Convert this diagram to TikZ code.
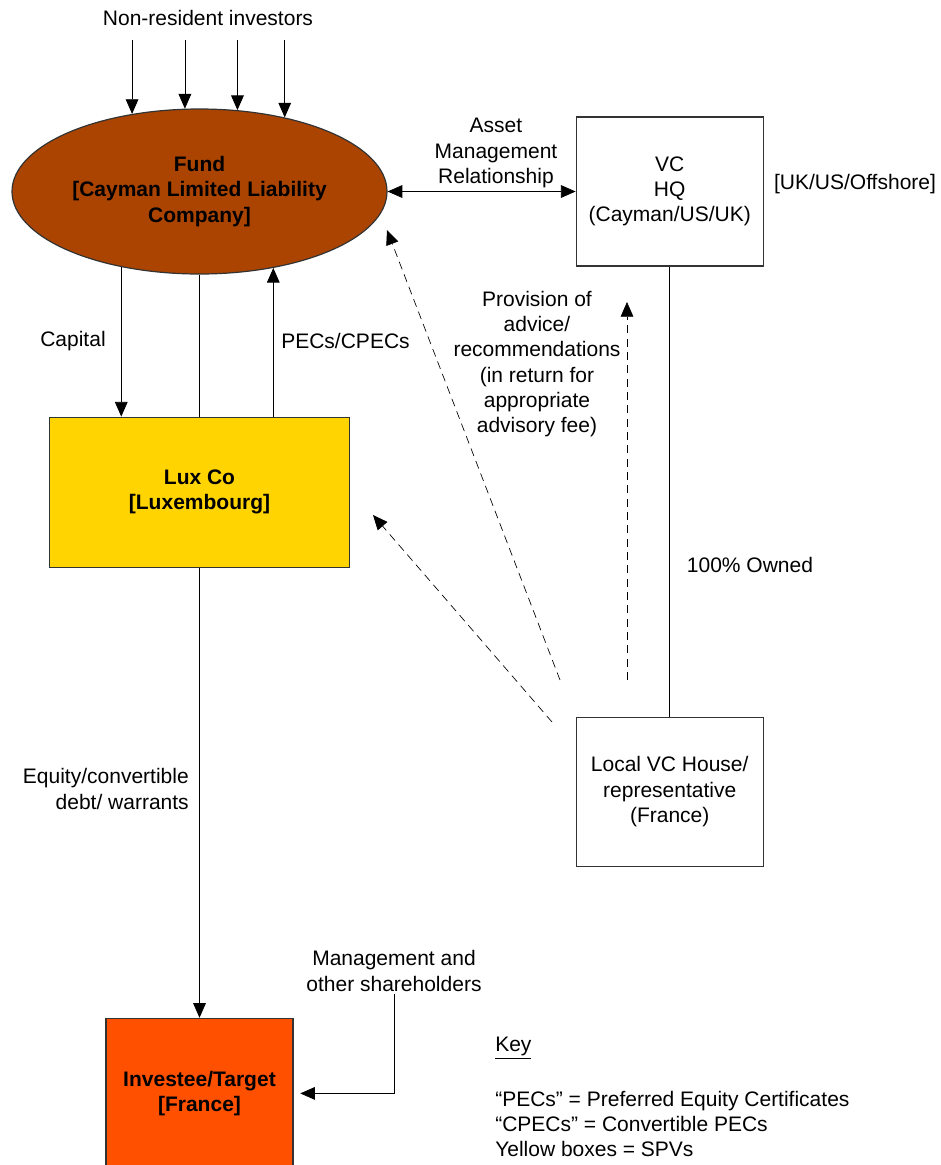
\documentclass[tikz,border=0pt]{standalone}
\usepackage{fontspec}
\setmainfont{Liberation Sans}
\usetikzlibrary{arrows.meta,shapes.geometric,positioning}

\definecolor{fundbrown}{RGB}{170,68,0}
\definecolor{luxyellow}{RGB}{255,212,0}
\definecolor{targetred}{RGB}{255,80,0}
\newcommand\diagfont{\fontsize{15.75}{19}\selectfont}

\begin{document}
\begin{tikzpicture}[
        x=0.75pt, y=-0.75pt,
        font=\diagfont,
        >={Triangle[length=11pt,width=9.5pt]},
        every node/.style={align=center, inner sep=1.5pt},
        entity/.style={draw=black!80, line width=0.9pt, minimum width=140.25pt, minimum height=111.75pt},
        fundnode/.style={ellipse, draw=black!80, line width=0.9pt, fill=fundbrown, minimum width=281.25pt, minimum height=123.75pt, inner sep=0pt, font=\diagfont\bfseries},
        spv/.style={entity, fill=luxyellow, minimum width=225pt, minimum height=112.5pt, font=\diagfont\bfseries},
        target/.style={entity, fill=targetred, minimum height=112.5pt, font=\diagfont\bfseries},
        flow/.style={->, line width=0.6pt},
        link/.style={line width=0.6pt},
        advice/.style={->, line width=0.5pt, dash pattern=on 6pt off 4pt}
    ]
    \useasboundingbox (0,0) rectangle (941,1165);

    % Entities
      \node[fundnode] (fund) at (199.5,191.5) {Fund\\{[Cayman Limited Liability}\\Company]};
      \node[entity, right=141pt of fund] (hq) {VC\\HQ\\(Cayman/US/UK)};
      \node[spv, below=106.5pt of fund] (lux) {Lux Co\\{[Luxembourg]}};
      \node[target, below=337.5pt of lux] (investee) {Investee/Target\\{[France]}};
      \node[entity, below=337.5pt of hq] (local) {Local VC House/\\representative\\(France)};

    % Texts
      \node (investors) at (208,18) {Non-resident investors};
      \node (amr) at (496,153) {Asset\\Management\\Relationship};
      \node (offshore) at (855,184) {[UK/US/Offshore]};
      \node (capital) at (73,341) {Capital};
      \node (pecs) at (345.5,341) {PECs/CPECs};
      \node (advicetxt) at (537,364) {Provision of\\advice/\\recommendations\\(in return for\\appropriate\\advisory fee)};
      \node (owned) at (750,565) {100\% Owned};
      \node[anchor=east, align=right] (equity) at (191,789) {Equity/convertible\\debt/ warrants};
      \node (mgmt) at (394,971) {Management and\\other shareholders};
      \node[anchor=west] (key) at (493,1048) {\underline{Key}};
      \node[anchor=west, align=left] (keytxt) at (493,1124) {“PECs” = Preferred Equity Certificates\\“CPECs” = Convertible PECs\\Yellow boxes = SPVs};

    % Free ends
      \coordinate (top) at (0,40);
      \coordinate (adv1s) at (560,680);
      \coordinate (adv1e) at (387,230);
      \coordinate (adv2s) at (552,722);
      \coordinate (adv2e) at (373,515);
      \coordinate (adv3s) at (627,680);
      \coordinate (adv3e) at (627,302);

    \foreach \a in {131.2,100.7,65.1,41.9}
      \draw[flow] (fund.\a |- top) -- (fund.\a);

    \draw[flow, <->] (fund.east) -- (hq.west);
    \draw[flow] (fund.224.5) -- (fund.224.5 |- lux.north);
    \draw[link] (fund.south) -- (lux.north);
    \draw[flow] (fund.314.5 |- lux.north) -- (fund.314.5);
    \draw[flow] (lux.south) -- (investee.north);
    \draw[link] (hq.south) -- (local.north);
    \draw[flow] (mgmt.south) |- ([xshift=5pt]investee.east);

    \draw[advice] (adv1s) -- (adv1e);
    \draw[advice] (adv2s) -- (adv2e);
    \draw[advice] (adv3s) -- (adv3e);

\end{tikzpicture}
\end{document}
